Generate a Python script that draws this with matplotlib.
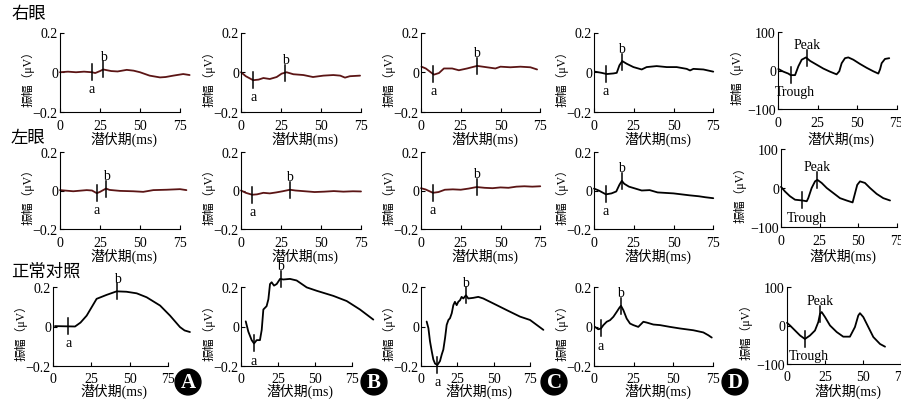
import numpy as np
import matplotlib
matplotlib.use("Agg")
import matplotlib.pyplot as plt

plt.rcParams['font.family'] = ['Liberation Serif', 'Noto Sans CJK SC']
plt.rcParams['axes.unicode_minus'] = True

# ---- 右眼 ----
r1A_t = [0, 5, 10, 15, 20, 22, 25, 27, 32, 36, 41.7, 46, 50, 56, 62.5, 66, 70.8, 77, 81]
r1A_v = [0.0, 0.003, 0.0, 0.003, 0.0, -0.004, 0.006, 0.014, 0.006, 0.004, 0.012, 0.008, 0.0,
         -0.017, -0.026, -0.024, -0.017, -0.009, -0.014]
r1B_t = [0, 3, 7.6, 11, 14, 18, 22.3, 25.4, 28.5, 32.7, 39, 45, 51.5, 57.7, 62, 65, 68, 74.4]
r1B_v = [0, -0.02, -0.04, -0.037, -0.029, -0.034, -0.024, -0.007, 0, -0.01, -0.014, -0.024,
         -0.017, -0.014, -0.017, -0.027, -0.02, -0.017]
r1C_t = [0.3, 3, 8.1, 11.3, 14.4, 19.6, 23.8, 29, 35.3, 41.5, 46.8, 50, 56.2, 62.5, 68.8, 73]
r1C_v = [0.028, 0.019, -0.012, -0.004, 0.019, 0.019, 0.01, 0.019, 0.032, 0.025, 0.019, 0.028,
         0.025, 0.028, 0.025, 0.014]
r1D_t = [0.6, 4.8, 8, 12.2, 14.3, 16, 17.8, 20.5, 24.8, 30, 33.1, 39.4, 45.7, 52, 58.3, 60.4,
         62.5, 68.8, 75]
r1D_v = [0.003, -0.003, -0.009, -0.006, -0.003, 0.035, 0.056, 0.043, 0.026, 0.014, 0.026, 0.031,
         0.026, 0.026, 0.017, 0.009, 0.017, 0.014, 0.003]
r1E_t = [0.2, 3.4, 6.5, 8, 10.8, 12.9, 15, 17.7, 20.3, 24.5, 28.7, 32.9, 37.1, 38.8, 40.3, 42.4,
         44.5, 47.7, 51.9, 56.1, 60.3, 63.5, 64.6, 65.6, 67.7, 70.4]
r1E_v = [4, -3, -8, -12, -12, 11, 28, 34, 25, 15, 5, -3, -10, -2, 19, 32, 34, 28, 17, 7, -2, -8,
         3, 19, 30, 32]

# ---- 左眼 ----
r2A_t = [0, 8.3, 16.7, 20, 23, 25, 28.75, 31, 37.5, 45.8, 52, 58.3, 66.7, 75, 79]
r2A_v = [0.002, -0.004, 0.002, 0.0, -0.014, -0.007, 0.01, 0.003, -0.002, -0.004, -0.007, 0.002,
         0.004, 0.007, 0.002]
r2B_t = [0, 3, 7, 10, 14, 18, 22, 26, 30.6, 34, 40, 46, 52, 58, 64, 70, 75]
r2B_v = [0.0, -0.012, -0.022, -0.02, -0.012, -0.015, -0.01, -0.004, 0.004, 0.0, -0.004, -0.008,
         -0.006, -0.003, -0.006, -0.004, -0.005]
r2C_t = [0, 3, 7.5, 11, 15, 20, 25, 30, 35, 40, 45, 50, 55, 60, 65, 70, 75]
r2C_v = [0.012, 0.005, -0.012, -0.008, 0.004, 0.006, 0.004, 0.01, 0.018, 0.014, 0.012, 0.016,
         0.014, 0.02, 0.022, 0.02, 0.022]
r2D_t = [0, 3, 7.5, 11, 14, 16, 17.5, 19, 22, 26, 30, 35, 40, 50, 60, 66, 70, 75]
r2D_v = [0.01, 0.0, -0.02, -0.015, -0.005, 0.03, 0.05, 0.035, 0.02, 0.01, 0.0, 0.002, -0.01,
         -0.015, -0.025, -0.03, -0.035, -0.04]
r2E_t = [0, 2.6, 5.8, 9.1, 13.9, 16.7, 17.7, 19.9, 22.1, 23.6, 26.4, 29.7, 34, 38.3, 42.6, 46.5,
         48.1, 49.5, 51.3, 54.5, 57.8, 62.1, 66.4, 70.8]
r2E_v = [3, -9, -21, -30, -32, -34, -26, 0, 17, 21, 13, 0, -13, -26, -32, -37, -13, 8, 17, 13, 0,
         -15, -26, -32]

# ---- 正常对照 ----
r3A_t = [1.3, 14.4, 18, 22, 28.5, 35, 41.6, 48, 54.7, 61.2, 70, 76.5, 83, 86, 89.5]
r3A_v = [0.002, 0.0, 0.02, 0.055, 0.14, 0.16, 0.178, 0.176, 0.168, 0.148, 0.106, 0.055, -0.003,
         -0.02, -0.028]
r3B_t = [3.2, 4.95, 7.2, 8.8, 10.6, 12.8, 14, 15.1, 17.3, 18.5, 19.6, 20.7, 22.3, 24.1, 26.4,
         28.6, 33.1, 37.6, 44.4, 51.1, 62.4, 71.4, 80.4, 89.4]
r3B_v = [0.026, -0.026, -0.069, -0.086, -0.069, -0.069, -0.017, 0.086, 0.103, 0.138, 0.215,
         0.224, 0.207, 0.215, 0.241, 0.238, 0.241, 0.233, 0.198, 0.181, 0.155, 0.129, 0.086, 0.035]
r3C_t = [3.9, 5.1, 6.2, 7.4, 8.5, 9.7, 11.3, 13.1, 14.3, 15.4, 16.6, 17.7, 18.9, 20, 21.2, 22.3,
         23.4, 24.6, 25.7, 26.9, 28, 29.2, 31, 32.6, 36, 39.5, 42.9, 49.8, 59.1, 68.3, 75.2, 84.4]
r3C_v = [0.025, -0.008, -0.075, -0.125, -0.167, -0.188, -0.195, -0.175, -0.142, -0.117, -0.058,
         0.008, 0.033, 0.042, 0.067, 0.108, 0.125, 0.108, 0.125, 0.133, 0.15, 0.142, 0.158, 0.142,
         0.145, 0.15, 0.142, 0.117, 0.083, 0.05, 0.033, -0.017]
r3D_t = [0.6, 2.7, 4.4, 5.9, 8, 10.1, 12.2, 14.3, 16, 17, 18.5, 20.6, 22.7, 24.8, 27.9, 31.1, 33.2,
         37.4, 41.6, 47.9, 54.2, 62.6, 68.9, 72, 74.2]
r3D_v = [-0.002, -0.014, -0.01, 0.007, 0.024, 0.032, 0.049, 0.074, 0.095, 0.105, 0.083, 0.04,
         0.015, 0.007, -0.002, 0.024, 0.02, 0.01, 0.007, -0.002, -0.01, -0.019, -0.03, -0.044, -0.056]
r3E_t = [0, 2, 5.3, 8.6, 11.8, 15.1, 18.4, 20.6, 21.7, 22.8, 25, 28.3, 32.7, 37, 41.4, 44.7, 46.9,
         48, 50.2, 53.5, 56.8, 61.2, 64.5]
r3E_v = [7, 0, -13, -26, -35, -26, -13, 9, 30, 35, 22, 0, -17, -29, -29, -4, 26, 32, 22, -4, -30,
         -48, -55]

# marker times (a/Trough, b/Peak)
r1_marks = [(20, 27), (7.6, 27.5), (7.8, 35), (7.5, 17.4), (8, 18.2)]
r2_marks = [(23, 28.75), (7, 30.6), (7.5, 35), (7.5, 17.5), (13.9, 23.6)]
r3_marks = [(10, 42), (8.8, 26.8), (11.3, 31), (4.4, 17), (11.8, 21.7)]

row_titles = ['右眼', '左眼', '正常对照']
panel_letters = ['A', 'B', 'C', 'D']
x_ticks = [0, 25, 50, 75]
small_ticks = [-0.2, 0, 0.2]
small_labels = ['\u22120.2', '0', '0.2']
big_ticks = [-100, 0, 100]
big_labels = ['\u2212100', '0', '100']

rows = [
    [(r1A_t, r1A_v), (r1B_t, r1B_v), (r1C_t, r1C_v), (r1D_t, r1D_v), (r1E_t, r1E_v)],
    [(r2A_t, r2A_v), (r2B_t, r2B_v), (r2C_t, r2C_v), (r2D_t, r2D_v), (r2E_t, r2E_v)],
    [(r3A_t, r3A_v), (r3B_t, r3B_v), (r3C_t, r3C_v), (r3D_t, r3D_v), (r3E_t, r3E_v)],
]
marks = [r1_marks, r2_marks, r3_marks]

# layout in pixels
W, H = 901, 402
x0_px = [[60, 241, 421, 594, 778], [60, 241, 421, 594, 781], [53, 241, 421, 594, 787]]
scale_px = [[1.6, 1.6, 1.59, 1.59, 1.58], [1.6, 1.6, 1.59, 1.59, 1.54],
            [1.53, 1.48, 1.45, 1.587, 1.52]]
ytop_px = [[33.5, 33], [153, 150], [288, 288]]
ybot_px = [[113, 110], [230, 228], [367, 365]]
xlab_y = [139, 256, 391]
tick_pad = [5, 5, 4]
title_y = [14.5, 138, 272]
badge_x = [188, 374, 554, 735]

fig = plt.figure(figsize=(W / 100, H / 100), dpi=100)
RED = '#5b1515'


def px(x, y):
    return x / W, 1 - y / H


for r in range(3):
    fig.text(*px(11, title_y[r]), row_titles[r], fontsize=12.5, ha='left', va='center',
             family=['Noto Sans CJK SC'])
    for c in range(5):
        t, v = rows[r][c]
        big = c == 4
        ymax = 100 if big else 0.2
        k = 1 if big else 0
        top, bot = ytop_px[r][k], ybot_px[r][k]
        x0, s = x0_px[r][c], scale_px[r][c]
        py = (bot - top) / (2 * ymax)
        zero = (top + bot) / 2
        xlo, xhi, yf = -3, 92, 1.7
        atop = zero - yf * ymax * py
        abot = zero + yf * ymax * py
        ax = fig.add_axes([(x0 + xlo * s) / W, 1 - abot / H, (xhi - xlo) * s / W, (abot - atop) / H])
        ax.set_xlim(xlo, xhi)
        ax.set_ylim(-yf * ymax, yf * ymax)
        ax.patch.set_visible(False)
        for sp in ['top', 'right']:
            ax.spines[sp].set_visible(False)
        ax.spines['left'].set_position(('data', 0))
        ax.spines['bottom'].set_position(('data', -ymax))
        ax.spines['left'].set_bounds(-ymax, ymax)
        ax.spines['bottom'].set_bounds(0, 75)
        for sp in ['left', 'bottom']:
            ax.spines[sp].set_linewidth(0.8)
        ax.set_xticks(x_ticks)
        ax.set_xticklabels([str(x) for x in x_ticks])
        if big:
            ax.set_yticks(big_ticks)
            ax.set_yticklabels(big_labels)
        else:
            ax.set_yticks(small_ticks)
            ax.set_yticklabels(small_labels)
        ax.tick_params(direction='in', length=3, width=0.8, labelsize=10)
        ax.tick_params(axis='x', pad=tick_pad[r])
        ax.tick_params(axis='y', pad=1.5)

        color = RED if (r < 2 and c < 3) else 'black'
        ax.plot(t, v, color=color, lw=1.3, solid_capstyle='round')

        half = 8 / py
        names = ('Trough', 'Peak') if big else ('a', 'b')
        for i, m in enumerate(marks[r][c]):
            yv = np.interp(m, t, v)
            ax.plot([m, m], [yv - half, yv + half], color='black', lw=1.1)
            if i == 0:
                ax.annotate(names[0], (m, yv - half), xytext=(3 if big else 0, -1.5),
                            textcoords='offset points', ha='center', va='top', fontsize=10)
            else:
                ax.annotate(names[1], (m, yv + half), xytext=(0, -1),
                            textcoords='offset points', ha='center', va='bottom', fontsize=10)

        fig.text(*px(x0 + 40 * s, xlab_y[r]), '潜伏期(ms)', fontsize=10, ha='center', va='center')
        ylx = x0 - (41 if big else 32)
        fig.text(*px(ylx, zero + 3), '振幅（μV）', fontsize=8.5, ha='center', va='center',
                 rotation=90)

for i, letter in enumerate(panel_letters):
    fig.text(*px(badge_x[i], 383), letter, fontsize=15, fontweight='bold', color='white',
             ha='center', va='center',
             bbox=dict(boxstyle='circle,pad=0.14', fc='black', ec='black'))

fig.savefig('out.png', dpi=100)
